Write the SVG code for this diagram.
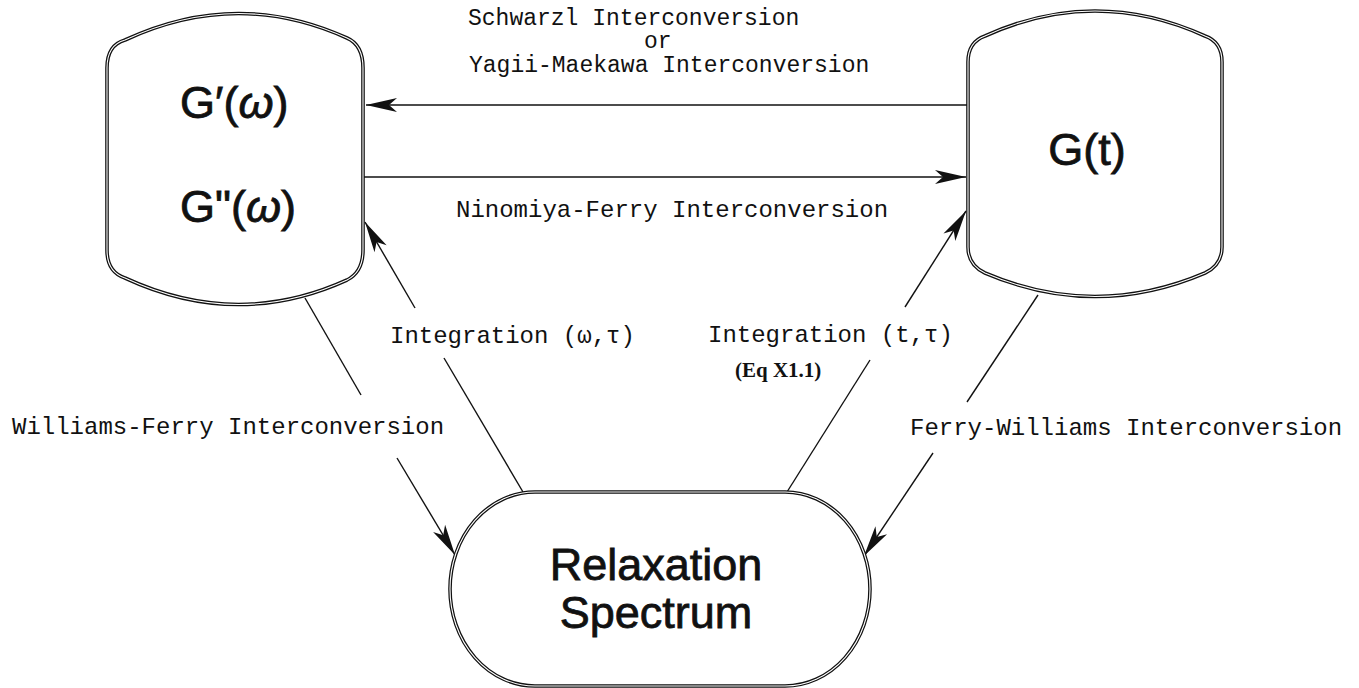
<svg xmlns="http://www.w3.org/2000/svg" width="1359" height="688" viewBox="0 0 1359 688">
<defs>
<style>
.bg{fill:#fff}
.node-outer{fill:#fff;stroke:#111;stroke-width:3.6}
.node-inner{fill:none;stroke:#fff;stroke-width:1.1}
.big{font-family:"Liberation Sans",Arial,sans-serif;font-size:45px;fill:#111;stroke:#111;stroke-width:0.8}
.mono{font-family:"Liberation Mono","Courier New",monospace;font-size:24px;fill:#111}
.top{font-size:23px}
.eq{font-family:"Liberation Serif","Times New Roman",serif;font-size:21px;font-weight:bold;fill:#111}
.line{fill:none;stroke:#111;stroke-width:1.4}
</style>
<marker id="ah" viewBox="-32 -9 34 18" refX="0" refY="0" markerWidth="34" markerHeight="18" markerUnits="userSpaceOnUse" orient="auto">
<path d="M0,0 L-31,-7 L-23,0 L-31,7 Z" fill="#111"/>
</marker>
</defs>
<rect class="bg" x="0" y="0" width="1359" height="688"/>

<g id="connectors">
<line class="line" x1="968" y1="105" x2="366" y2="105" marker-end="url(#ah)"/>
<line class="line" x1="364" y1="177" x2="966" y2="177" marker-end="url(#ah)"/>
<line class="line" x1="415" y1="308" x2="365" y2="222" marker-end="url(#ah)"/>
<line class="line" x1="444" y1="358" x2="523" y2="492"/>
<line class="line" x1="905" y1="307" x2="966" y2="211" marker-end="url(#ah)"/>
<line class="line" x1="870" y1="360" x2="787" y2="492"/>
<line class="line" x1="305" y1="298" x2="361" y2="395"/>
<line class="line" x1="397" y1="458" x2="455" y2="555" marker-end="url(#ah)"/>
<line class="line" x1="1038" y1="295" x2="967" y2="402"/>
<line class="line" x1="933" y1="453" x2="864" y2="556" marker-end="url(#ah)"/>
</g>

<g id="node-storage-modulus">
<path class="node-outer" d="M107,68 Q107,45 125,40 Q237,-12 347,38 Q363,45 363,68 L363,250 Q363,272 347,280 Q237,330 125,278 Q107,272 107,250 Z"/>
<path class="node-inner" d="M107,68 Q107,45 125,40 Q237,-12 347,38 Q363,45 363,68 L363,250 Q363,272 347,280 Q237,330 125,278 Q107,272 107,250 Z"/>
<text class="big" x="180" y="118">G′(<tspan font-style="italic">ω</tspan>)</text>
<text class="big" x="180" y="222">G"(<tspan font-style="italic">ω</tspan>)</text>
</g>

<g id="node-relaxation-modulus">
<path class="node-outer" d="M968,62 Q968,42 985,36 Q1095,-14 1205,36 Q1222,42 1222,62 L1222,247 Q1222,265 1205,273 Q1095,320 985,273 Q968,265 968,247 Z"/>
<path class="node-inner" d="M968,62 Q968,42 985,36 Q1095,-14 1205,36 Q1222,42 1222,62 L1222,247 Q1222,265 1205,273 Q1095,320 985,273 Q968,265 968,247 Z"/>
<text class="big" x="1087" y="165" text-anchor="middle">G(t)</text>
</g>

<g id="node-relaxation-spectrum">
<rect class="node-outer" x="450" y="492" width="420" height="194" rx="85" ry="97"/>
<rect class="node-inner" x="450" y="492" width="420" height="194" rx="85" ry="97"/>
<text class="big" x="656" y="580" text-anchor="middle">Relaxation</text>
<text class="big" x="656" y="628" text-anchor="middle">Spectrum</text>
</g>

<g id="labels">
<text class="mono top" x="468" y="25">Schwarzl Interconversion</text>
<text class="mono top" x="644" y="48">or</text>
<text class="mono top" x="469" y="72">Yagii-Maekawa Interconversion</text>
<text class="mono" x="456" y="217">Ninomiya-Ferry Interconversion</text>
<text class="mono" x="390" y="343">Integration (ω,τ)</text>
<text class="mono" x="708" y="342">Integration (t,τ)</text>
<text class="eq" x="735" y="377">(Eq X1.1)</text>
<text class="mono" x="12" y="434">Williams-Ferry Interconversion</text>
<text class="mono" x="910" y="435">Ferry-Williams Interconversion</text>
</g>
</svg>
